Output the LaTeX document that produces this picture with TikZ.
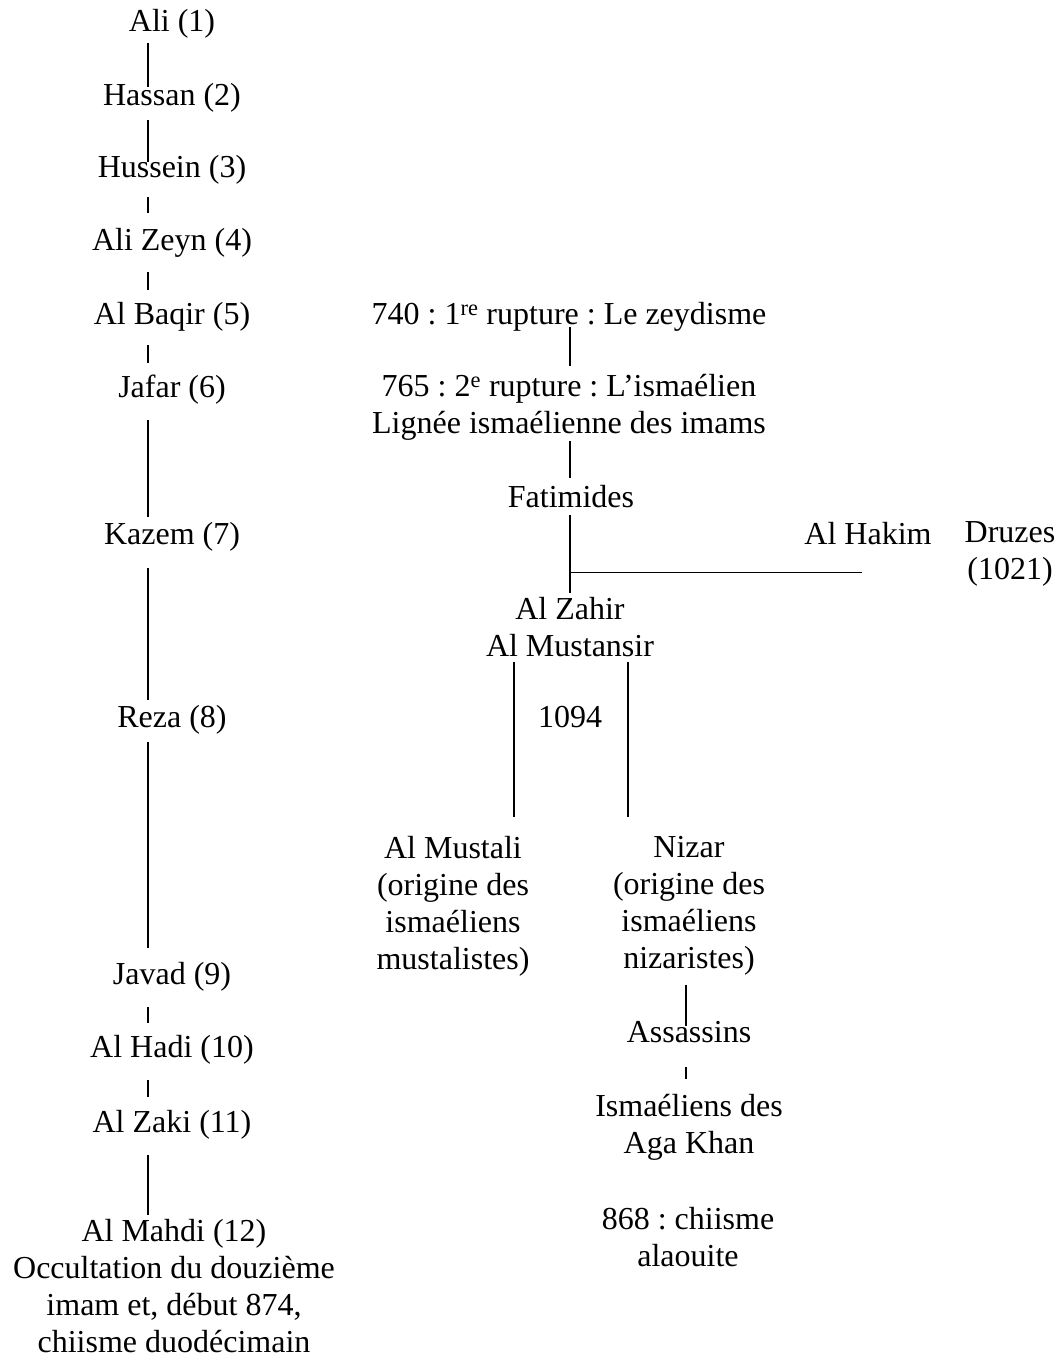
\documentclass[tikz,border=0pt]{standalone}
\usepackage{fontspec}
\setmainfont{Liberation Serif}
\frenchspacing
\usetikzlibrary{positioning,calc}
\tikzset{
  nm/.style={inner sep=0pt, text height=22pt, text depth=7pt,
             font=\fontsize{32}{37}\selectfont},
  blk/.style={inner sep=0pt, align=center, font=\fontsize{32}{37}\selectfont},
  lnk/.style={line width=1.1pt},
}

\begin{document}
\begin{tikzpicture}[x=1pt, y=-1pt]
  \useasboundingbox (0,0) rectangle (1060,1359);
  \coordinate (spine) at (148,0);
  \coordinate (rsp) at (570,0);
  \coordinate (bl) at (514,0);
  \coordinate (br) at (628,0);
  \coordinate (nsp) at (686,0);
  % imams
  \node[nm] (ali) at (172,24) {Ali (1)};
  \node[nm] (has) at (172,98) {Hassan (2)};
  \node[nm] (hus) at (172,170) {Hussein (3)};
  \node[nm] (zey) at (172,243) {Ali Zeyn (4)};
  \node[nm] (baq) at (172,317) {Al Baqir (5)};
  \node[nm] (jaf) at (172,390) {Jafar (6)};
  \node[nm] (kaz) at (172,537) {Kazem (7)};
  \node[nm] (rez) at (172,720) {Reza (8)};
  \node[nm] (jav) at (172,977) {Javad (9)};
  \node[nm] (had) at (172,1050) {Al Hadi (10)};
  \node[nm] (zak) at (172,1125) {Al Zaki (11)};
  \node[blk] (mah) at (174,1286) {Al Mahdi (12)\\Occultation du douzième\\imam et, début 874,\\chiisme duodécimain};
  \draw[lnk, shorten <=4.5pt, shorten >=-3.5pt] (ali.south -| spine) -- (has.north -| spine);
  \draw[lnk, shorten <=7.5pt, shorten >=-6.5pt] (has.south -| spine) -- (hus.north -| spine);
  \draw[lnk, shorten <=12.5pt, shorten >=15.5pt] (hus.south -| spine) -- (zey.north -| spine);
  \draw[lnk, shorten <=14.5pt, shorten >=12.5pt] (zey.south -| spine) -- (baq.north -| spine);
  \draw[lnk, shorten <=13.5pt, shorten >=12.5pt] (baq.south -| spine) -- (jaf.north -| spine);
  \draw[lnk, shorten <=15.5pt, shorten >=5.5pt] (jaf.south -| spine) -- (kaz.north -| spine);
  \draw[lnk, shorten <=16.5pt, shorten >=5.5pt] (kaz.south -| spine) -- (rez.north -| spine);
  \draw[lnk, shorten <=7.5pt, shorten >=14.5pt] (rez.south -| spine) -- (jav.north -| spine);
  \draw[lnk, shorten <=15.5pt, shorten >=12.5pt] (jav.south -| spine) -- (had.north -| spine);
  \draw[lnk, shorten <=15.5pt, shorten >=13.5pt] (had.south -| spine) -- (zak.north -| spine);
  \draw[lnk, shorten <=15.5pt, shorten >=4.5pt] (zak.south -| spine) -- (mah.north -| spine);
  % ruptures
  \node[nm] (zdm) at (569,317) {740 : 1\textsuperscript{re} rupture : Le zeydisme};
  \node[blk] (ism) at (569,407) {765 : 2\textsuperscript{e} rupture : L’ismaélien\\Lignée ismaélienne des imams};
  \node[nm] (fat) at (571,500) {Fatimides};
  \node[blk] (zah) at (570,627) {Al Zahir\\Al Mustansir};
  \node[nm] (hak) at (868,537) {Al Hakim};
  \node[blk] (dru) at (1010,554) {Druzes\\(1021)};
  \node[nm] (yr) at (570,720) {1094};
  \node[blk] (mus) at (453,906) {Al Mustali\\(origine des\\ismaéliens\\mustalistes)};
  \node[blk] (niz) at (689,906) {Nizar\\(origine des\\ismaéliens\\nizaristes)};
  \node[nm] (ass) at (689,1035) {Assassins};
  \node[blk] (aga) at (689,1127) {Ismaéliens des\\Aga Khan};
  \node[blk] (ala) at (688,1237) {868 : chiisme\\alaouite};
  \draw[lnk, shorten <=-4.5pt, shorten >=8pt] (zdm.south -| rsp) -- (ism.north -| rsp);
  \draw[lnk, shorten <=1pt, shorten >=7.5pt] (ism.south -| rsp) -- (fat.north -| rsp);
  \draw[lnk, shorten <=0.5pt, shorten >=4pt] (fat.south -| rsp) -- (zah.north -| rsp);
  \draw[lnk] ([yshift=-20.5pt]hak.south -| rsp) -- ([xshift=-6pt,yshift=-20.5pt]hak.south);
  \draw[lnk, shorten <=5pt, shorten >=19pt] (zah.south -| bl) -- (mus.north -| bl);
  \draw[lnk, shorten <=5pt, shorten >=19pt] (zah.south -| br) -- (niz.north -| br);
  \draw[lnk, shorten <=9pt, shorten >=-5.5pt] (niz.south -| nsp) -- (ass.north -| nsp);
  \draw[lnk, shorten <=17.5pt, shorten >=14.5pt] (ass.south -| nsp) -- (aga.north -| nsp);
\end{tikzpicture}
\end{document}
